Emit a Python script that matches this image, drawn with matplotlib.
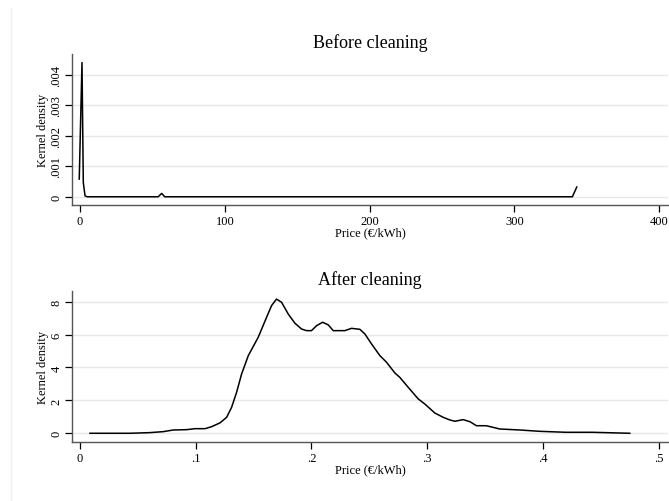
import numpy as np
import matplotlib.pyplot as plt
from matplotlib.lines import Line2D

plt.rcParams['font.family'] = ['Liberation Serif', 'DejaVu Serif']

# before cleaning (price in euro/kWh, kernel density)
before_x = [-0.5, 1.4, 2.3, 3.5, 5, 54, 56.4, 58.5, 340, 343]
before_y = [0.00058, 0.0044, 0.00047, 0.00003, 0.0, 0.0, 0.00011, 0.0, 0.0, 0.00032]
before_xticks = [0, 100, 200, 300, 400]
before_yticks = [0, 0.001, 0.002, 0.003, 0.004]
before_ylabels = ['0', '.001', '.002', '.003', '.004']

# after cleaning
after_x = [0.0086, 0.043, 0.0604, 0.072, 0.0806, 0.0921, 0.0993, 0.108, 0.1137, 0.1209,
           0.1267, 0.131, 0.1353, 0.1396, 0.1454, 0.154, 0.1612, 0.1655, 0.1698, 0.1742,
           0.1799, 0.1857, 0.1914, 0.1957, 0.2, 0.2044, 0.2096, 0.2145, 0.2188, 0.2245,
           0.2288, 0.2346, 0.2418, 0.2461, 0.2519, 0.2591, 0.2648, 0.272, 0.2763, 0.2835,
           0.2922, 0.2979, 0.3066, 0.3138, 0.3195, 0.3239, 0.331, 0.337, 0.3425, 0.351,
           0.3627, 0.38, 0.397, 0.42, 0.443, 0.475]
after_y = [0.0, 0.0, 0.04, 0.1, 0.2, 0.22, 0.28, 0.28, 0.4, 0.63,
           0.97, 1.58, 2.49, 3.6, 4.72, 5.84, 7.05, 7.76, 8.16, 7.96,
           7.25, 6.69, 6.34, 6.24, 6.24, 6.54, 6.75, 6.59, 6.24, 6.24,
           6.24, 6.38, 6.32, 6.04, 5.43, 4.72, 4.32, 3.67, 3.4, 2.8,
           2.09, 1.78, 1.23, 0.97, 0.81, 0.73, 0.83, 0.7, 0.46, 0.46,
           0.26, 0.2, 0.12, 0.06, 0.06, 0.0]
after_xticks = [0, 0.1, 0.2, 0.3, 0.4, 0.5]
after_xlabels = ['0', '.1', '.2', '.3', '.4', '.5']
after_yticks = [0, 2, 4, 6, 8]

W, H = 669, 502
fig = plt.figure(figsize=(W / 100, H / 100), dpi=100)

axis_col = '#555555'


def style(ax):
    for s in ['top', 'right']:
        ax.spines[s].set_visible(False)
    for s in ['left', 'bottom']:
        ax.spines[s].set_color(axis_col)
        ax.spines[s].set_linewidth(1.0)
    ax.tick_params(axis='both', direction='out', length=5, width=0.9, color='black',
                   labelsize=9, pad=2)
    ax.grid(axis='y', color='#e8e8e8', linewidth=1.0)
    ax.set_axisbelow(True)
    for lab in ax.get_yticklabels():
        lab.set_rotation(90)
        lab.set_va('center')


# top panel
ax1 = fig.add_axes([72 / W, 1 - 206 / H, (668 - 72) / W, (206 - 55) / H])
ax1.plot(before_x, before_y, color='black', linewidth=1.1, solid_joinstyle='round')
ax1.set_xlim(-5.5, 406)
ax1.set_ylim(-0.00027, 0.00468)
ax1.set_xticks(before_xticks)
ax1.set_yticks(before_yticks)
ax1.set_yticklabels(before_ylabels)
ax1.set_title('Before cleaning', fontsize=13, pad=5)
ax1.set_xlabel('Price (€/kWh)', fontsize=9, labelpad=0)
ax1.set_ylabel('Kernel density', fontsize=9, labelpad=1)
style(ax1)

# bottom panel
ax2 = fig.add_axes([72 / W, 1 - 443 / H, (668 - 72) / W, (443 - 292) / H])
ax2.plot(after_x, after_y, color='black', linewidth=1.1, solid_joinstyle='round')
ax2.set_xlim(-0.0069, 0.508)
ax2.set_ylim(-0.53, 8.65)
ax2.set_xticks(after_xticks)
ax2.set_xticklabels(after_xlabels)
ax2.set_yticks(after_yticks)
ax2.set_title('After cleaning', fontsize=13, pad=5)
ax2.set_xlabel('Price (€/kWh)', fontsize=9, labelpad=0)
ax2.set_ylabel('Kernel density', fontsize=9, labelpad=1)
style(ax2)

# faint frame line on the left
fig.add_artist(Line2D([10.5 / W, 10.5 / W], [0, 1 - 9 / H], transform=fig.transFigure,
                      color='#eeeeee', linewidth=1))

fig.savefig('out.png', dpi=100)
